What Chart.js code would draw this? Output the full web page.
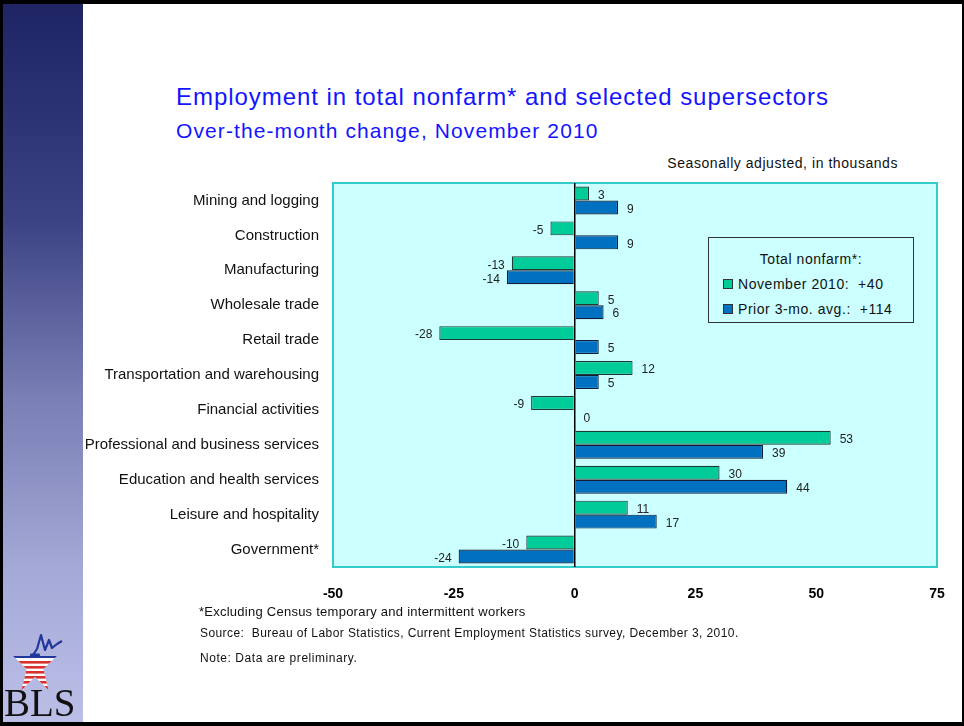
<!DOCTYPE html>
<html>
<head>
<meta charset="utf-8">
<title>Employment in total nonfarm and selected supersectors</title>
<script src="https://cdn.jsdelivr.net/npm/chart.js@4/dist/chart.umd.min.js"></script>
<style>
  html, body { margin: 0; padding: 0; background: #fff; }
  body { width: 964px; height: 726px; position: relative; overflow: hidden;
         font-family: "Liberation Sans", Arial, sans-serif; }
  #frame { position: absolute; left: 0; top: 0; width: 964px; height: 726px;
           box-sizing: border-box; border-style: solid; border-color: #000;
           border-width: 4px 2px 4px 3px; pointer-events: none; z-index: 5; }
  #side { position: absolute; left: 0; top: 0; width: 83px; height: 726px;
          background: linear-gradient(to bottom, #1d2363 0%, #3a4283 30%, #7a7fb5 55%, #a3a8d6 78%, #bcc0e8 100%); }
  .txt { position: absolute; line-height: 1; white-space: pre; }
  #title { left: 176px; top: 85px; font-size: 24px; color: #1414ff; letter-spacing: 0.95px; }
  #subtitle { left: 176px; top: 120px; font-size: 21px; color: #1414ff; letter-spacing: 1.1px; }
  #units { right: 66px; top: 156px; font-size: 14px; color: #111; letter-spacing: 0.55px; }
  #foot1 { left: 199px; top: 605px; font-size: 13px; color: #111; letter-spacing: 0.25px; }
  #foot2 { left: 200px; top: 627px; font-size: 12px; color: #111; letter-spacing: 0.42px; }
  #foot3 { left: 200px; top: 652px; font-size: 12px; color: #111; letter-spacing: 0.55px; }
  #chart { position: absolute; left: 0; top: 0; }
  #legend { position: absolute; left: 708px; top: 237px; width: 206px; height: 86px;
            box-sizing: border-box; border: 1px solid #333; background: #ccffff;
            font-size: 14px; color: #111; letter-spacing: 0.55px; }
  #legend .head { position: absolute; left: 0; width: 100%; top: 14px; text-align: center; line-height: 1; }
  #legend .row { position: absolute; left: 14px; line-height: 1; white-space: pre; }
  #legend .sw { display: inline-block; width: 8px; height: 8px; border: 1px solid #333;
                margin-right: 5px; vertical-align: 0px; }
  #logo { position: absolute; left: 0; top: 625px; }
</style>
</head>
<body>
<div id="side"></div>
<div id="title" class="txt">Employment in total nonfarm* and selected supersectors</div>
<div id="subtitle" class="txt">Over-the-month change, November 2010</div>
<div id="units" class="txt">Seasonally adjusted, in thousands</div>
<canvas id="chart" width="964" height="726"></canvas>
<div id="legend">
  <div class="head">Total nonfarm*:</div>
  <div class="row" style="top:39px"><span class="sw" id="swNov"></span>November 2010:  +40</div>
  <div class="row" style="top:64px"><span class="sw" id="swAvg"></span>Prior 3-mo. avg.:  +114</div>
</div>
<div id="foot1" class="txt">*Excluding Census temporary and intermittent workers</div>
<div id="foot2" class="txt">Source:  Bureau of Labor Statistics, Current Employment Statistics survey, December 3, 2010.</div>
<div id="foot3" class="txt">Note: Data are preliminary.</div>

<svg id="logo" width="83" height="101" viewBox="0 0 83 101">
  <defs>
    <clipPath id="starClip">
      <polygon points="35,10 40.2,31 56.9,31 43.4,44 48.5,65 35,52 21.5,65 26.6,44 13.1,31 29.8,31"/>
    </clipPath>
  </defs>
  <g clip-path="url(#starClip)">
    <rect x="0" y="33" width="83" height="33" fill="#fff"/>
    <rect x="0" y="28.5" width="83" height="4.5" fill="#22379a"/>
    <rect x="0" y="36" width="83" height="2.6" fill="#d9312e"/>
    <rect x="0" y="41" width="83" height="2.6" fill="#d9312e"/>
    <rect x="0" y="46" width="83" height="2.6" fill="#d9312e"/>
    <rect x="0" y="51" width="83" height="2.6" fill="#d9312e"/>
    <rect x="0" y="56" width="83" height="2.6" fill="#d9312e"/>
    <rect x="0" y="61" width="83" height="4" fill="#d9312e"/>
  </g>
  <polyline points="33,30 37,24 41,10 45,25 49,15 52,23 57,19 62,16" fill="none" stroke="#22379a" stroke-width="2.2" stroke-linejoin="round"/>
  <text x="4" y="91" font-family="'Liberation Serif', 'DejaVu Serif', serif" font-size="39" fill="#111">BLS</text>
</svg>
<div id="frame"></div>

<script>
// categories top to bottom, values in thousands
const sectors = [
  'Mining and logging',
  'Construction',
  'Manufacturing',
  'Wholesale trade',
  'Retail trade',
  'Transportation and warehousing',
  'Financial activities',
  'Professional and business services',
  'Education and health services',
  'Leisure and hospitality',
  'Government*'
];
const nov2010 = [3, -5, -13, 5, -28, 12, -9, 53, 30, 11, -10];
const prior3moAvg = [9, 9, -14, 6, 5, 5, 0, 39, 44, 17, -24];
const xTicks = [-50, -25, 0, 25, 50, 75];

const GREEN = '#00cc99';
const BLUE = '#0070c0';
const PLOT_BG = '#ccffff';
const PLOT_EDGE = '#33cccc';

document.getElementById('swNov').style.background = GREEN;
document.getElementById('swAvg').style.background = BLUE;

// light cyan plot area with teal edge
const plotFrame = {
  id: 'plotFrame',
  beforeDraw(chart) {
    const { ctx, chartArea: a } = chart;
    ctx.save();
    ctx.fillStyle = PLOT_BG;
    ctx.fillRect(a.left, a.top, a.right - a.left, a.bottom - a.top);
    ctx.strokeStyle = PLOT_EDGE;
    ctx.lineWidth = 2;
    ctx.strokeRect(a.left, a.top, a.right - a.left, a.bottom - a.top);
    ctx.restore();
  }
};

// value printed just past the end of each bar
const barValues = {
  id: 'barValues',
  afterDatasetsDraw(chart) {
    const { ctx } = chart;
    ctx.save();
    ctx.font = '12px "Liberation Sans", Arial, sans-serif';
    ctx.fillStyle = '#222';
    ctx.textBaseline = 'middle';
    chart.data.datasets.forEach((ds, di) => {
      chart.getDatasetMeta(di).data.forEach((bar, i) => {
        const v = ds.data[i];
        if (v < 0) {
          ctx.textAlign = 'right';
          ctx.fillText(String(v), bar.x - 7, bar.y + 2);
        } else {
          ctx.textAlign = 'left';
          ctx.fillText(String(v), bar.x + 9, bar.y + 2);
        }
      });
    });
    ctx.restore();
  }
};

new Chart(document.getElementById('chart'), {
  type: 'bar',
  data: {
    labels: sectors,
    datasets: [
      { label: 'November 2010', data: nov2010, backgroundColor: GREEN, borderColor: '#1c3b33', borderWidth: 1.2 },
      { label: 'Prior 3-mo. avg.', data: prior3moAvg, backgroundColor: BLUE, borderColor: '#101c38', borderWidth: 1.2 }
    ]
  },
  options: {
    indexAxis: 'y',
    responsive: false,
    animation: false,
    devicePixelRatio: 1,
    barPercentage: 1,
    categoryPercentage: 0.8,
    layout: { padding: { top: 183, right: 27, bottom: 119, left: 0 } },
    plugins: { legend: { display: false }, tooltip: { enabled: false } },
    scales: {
      x: {
        min: xTicks[0],
        max: xTicks[xTicks.length - 1],
        afterBuildTicks: scale => { scale.ticks = xTicks.map(v => ({ value: v })); },
        afterFit: scale => { scale.height = 40; },
        ticks: {
          color: '#000',
          padding: 19,
          font: { family: '"Liberation Sans", Arial, sans-serif', size: 14, weight: 'bold' }
        },
        grid: {
          drawTicks: false,
          lineWidth: 1.5,
          color: c => (c.tick && c.tick.value === 0 ? '#000' : 'rgba(0,0,0,0)')
        },
        border: { display: false }
      },
      y: {
        afterFit: scale => { scale.width = 333; },
        ticks: {
          color: '#111',
          padding: 14,
          font: { family: '"Liberation Sans", Arial, sans-serif', size: 15 }
        },
        grid: { display: false, drawTicks: false },
        border: { display: false }
      }
    }
  },
  plugins: [plotFrame, barValues]
});
</script>
</body>
</html>
